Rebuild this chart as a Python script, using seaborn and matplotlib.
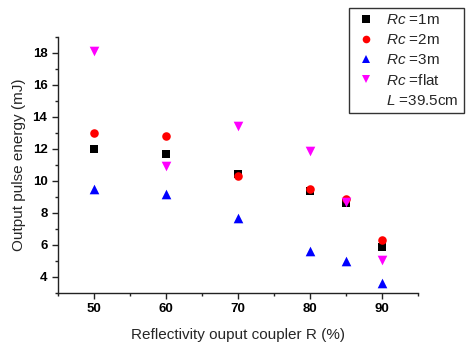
import matplotlib
matplotlib.use("Agg")
import matplotlib.pyplot as plt
from matplotlib.lines import Line2D
from matplotlib.ticker import MultipleLocator
import seaborn as sns
import pandas as pd

reflectivity = [50, 60, 70, 80, 85, 90]
rc_1m = [12.0, 11.7, 10.45, 9.4, 8.6, 5.85]
rc_2m = [13.0, 12.8, 10.3, 9.5, 8.9, 6.3]
rc_3m = [9.5, 9.2, 7.7, 5.6, 5.0, 3.6]
rc_flat = [18.1, 10.95, 13.45, 11.85, 8.7, 5.05]
series_names = ["1m", "2m", "3m", "flat"]
series_colors = ["#000000", "#ff0000", "#0000ff", "#ff00ff"]
series_markers = ["s", "o", "^", "v"]

sns.set_style("ticks")
plt.rcParams["font.family"] = ["Liberation Sans", "DejaVu Sans"]
plt.rcParams["mathtext.fontset"] = "custom"
plt.rcParams["mathtext.it"] = "Liberation Sans:italic"
plt.rcParams["mathtext.rm"] = "Liberation Sans"

rows = []
for name, vals in zip(series_names, [rc_1m, rc_2m, rc_3m, rc_flat]):
    for x, v in zip(reflectivity, vals):
        rows.append({"R": x, "E": v, "series": name})
df = pd.DataFrame(rows)

fig = plt.figure(figsize=(4.67, 3.45), dpi=100)
ax = fig.add_axes([0.124, 0.151, 0.771, 0.742])

sizes = {"1m": 30, "2m": 38, "3m": 48, "flat": 48}
for name, col, mk in zip(series_names, series_colors, series_markers):
    sub = df[df["series"] == name]
    sns.scatterplot(data=sub, x="R", y="E", color=col, marker=mk, s=sizes[name],
                    edgecolor=col, linewidth=0, ax=ax, zorder=3)

ax.set_xlim(45, 95)
ax.set_ylim(3, 19)
ax.xaxis.set_major_locator(MultipleLocator(10))
ax.xaxis.set_minor_locator(MultipleLocator(5))
ax.yaxis.set_minor_locator(MultipleLocator(1))
ax.set_yticks([4, 6, 8, 10, 12, 14, 16, 18])
ax.tick_params(which="major", direction="out", length=4, width=1, labelsize=9.5, colors="#222222")
ax.tick_params(which="minor", direction="out", length=2.5, width=1, colors="#222222")
for lbl in ax.get_xticklabels() + ax.get_yticklabels():
    lbl.set_fontweight("bold")
    lbl.set_color("black")
for sp in ["top", "right"]:
    ax.spines[sp].set_visible(False)
for sp in ["left", "bottom"]:
    ax.spines[sp].set_linewidth(1)
    ax.spines[sp].set_color("#222222")
ax.set_xlabel("Reflectivity ouput coupler R (%)", fontsize=11, labelpad=9)
ax.set_ylabel("Output pulse energy (mJ)", fontsize=11, labelpad=5)

handles = []
labels = []
for name, col, mk in zip(series_names, series_colors, series_markers):
    handles.append(Line2D([], [], linestyle="none", marker=mk, color=col,
                          markersize=5.5, markeredgewidth=0))
    labels.append(r"$Rc$ =" + name)
handles.append(Line2D([], [], linestyle="none", marker=None))
labels.append(r"$L$ =39.5cm")
leg = fig.legend(handles, labels, loc="upper left", bbox_to_anchor=(0.747, 0.977),
                 frameon=True, fancybox=False, shadow=False, fontsize=11,
                 handlelength=1.5, handletextpad=0.6, borderpad=0.35,
                 labelspacing=0.38, borderaxespad=0)
leg.get_frame().set_edgecolor("black")
leg.get_frame().set_linewidth(1)

fig.savefig("out.png", dpi=100)
